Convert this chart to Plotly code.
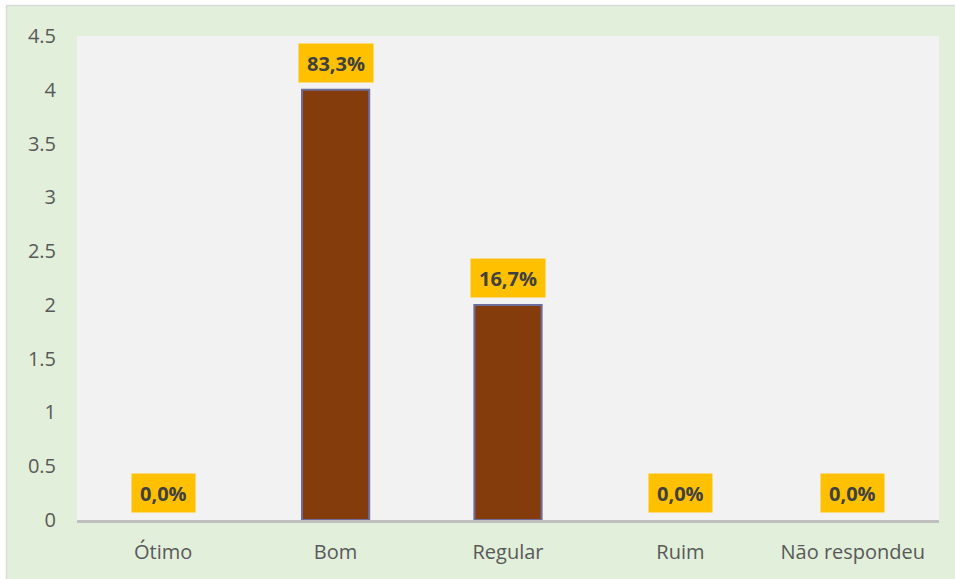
import plotly.graph_objects as go

categories = ["Ótimo", "Bom", "Regular", "Ruim", "Não respondeu"]
values = [0, 4, 2, 0, 0]
pct_labels = ["0,0%", "83,3%", "16,7%", "0,0%", "0,0%"]
y_ticks = [0, 0.5, 1, 1.5, 2, 2.5, 3, 3.5, 4, 4.5]
y_tick_text = ["0", "0.5", "1", "1.5", "2", "2.5", "3", "3.5", "4", "4.5"]

W, H = 955, 579
ML, MR, MT, MB = 77, 16, 36, 59
PW, PH = W - ML - MR, H - MT - MB

def px_x(px):
    return (px - ML) / PW

def px_y(py):
    return (H - MB - py) / PH

fig = go.Figure()
fig.add_trace(go.Bar(
    x=categories, y=values, width=0.39,
    marker=dict(color="#843C0C",
                line=dict(color="#6E6E9E", width=[2 if v > 0 else 0 for v in values])),
    hoverinfo="skip",
))

for c, v, t in zip(categories, values, pct_labels):
    fig.add_annotation(
        x=c, y=v, text="<b>" + t + "</b>", showarrow=False,
        yshift=27, yanchor="middle",
        font=dict(family="Open Sans", size=20, color="#404040"),
        bgcolor="#FFC000", borderpad=8, height=22,
    )

shapes = [
    dict(type="rect", xref="paper", yref="paper", x0=px_x(0), x1=px_x(6), y0=px_y(H), y1=px_y(0),
         fillcolor="white", line=dict(width=0)),
    dict(type="rect", xref="paper", yref="paper", x0=px_x(0), x1=px_x(W), y0=px_y(5), y1=px_y(0),
         fillcolor="white", line=dict(width=0)),
    dict(type="line", xref="paper", yref="paper", x0=px_x(6.5), x1=px_x(6.5), y0=px_y(H), y1=px_y(5.5),
         line=dict(color="#D9D9D9", width=1.5)),
    dict(type="line", xref="paper", yref="paper", x0=px_x(6.5), x1=px_x(W), y0=px_y(5.5), y1=px_y(5.5),
         line=dict(color="#D9D9D9", width=1.5)),
]

fig.update_layout(
    width=W, height=H,
    margin=dict(l=ML, r=MR, t=MT, b=MB),
    paper_bgcolor="#E2EFDA",
    plot_bgcolor="#F2F2F2",
    showlegend=False,
    shapes=shapes,
    font=dict(family="Open Sans", color="#595959"),
    xaxis=dict(
        showgrid=False, showline=True, linecolor="#BFBFBF", linewidth=3,
        ticks="", tickfont=dict(size=20, color="#595959"), ticklabelstandoff=12,
        fixedrange=True,
    ),
    yaxis=dict(
        range=[0, 4.5], tickvals=y_ticks, ticktext=y_tick_text,
        showgrid=False, zeroline=False, showline=False, ticks="",
        tickfont=dict(size=20, color="#595959"), ticklabelstandoff=20,
        fixedrange=True,
    ),
)

fig.write_html("out.html", config={"displayModeBar": False},
               post_script="document.body.style.margin='0';document.body.style.padding='0';")
